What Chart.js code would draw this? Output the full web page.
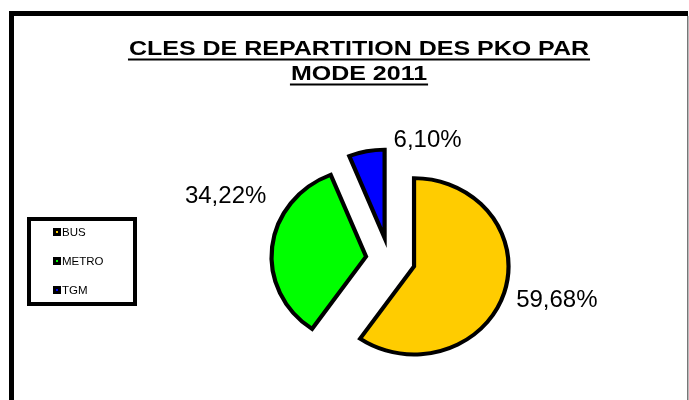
<!DOCTYPE html>
<html>
<head>
<meta charset="utf-8">
<title>Clés de répartition des PKO par mode 2011</title>
<script src="https://cdn.jsdelivr.net/npm/chart.js@4.4.0/dist/chart.umd.min.js"></script>
<style>
  html, body { margin: 0; padding: 0; background: #fff; }
  #wrap { position: relative; width: 689px; height: 400px; }
</style>
</head>
<body>
<div id="wrap"><canvas id="pkoChart"></canvas></div>
<script>
// Données
const modes = ['BUS', 'METRO', 'TGM'];
const shares = [59.68, 34.22, 6.10];
const sliceColors = ['#FFCC00', '#00FF00', '#0000FF'];
const titleLines = ['CLES DE REPARTITION DES PKO PAR', 'MODE 2011'];

// Mise en page
const FONT = '"Liberation Sans", Arial, sans-serif';
const PIE_RADIUS = 90;
const PIE_STRETCH = [1.05, 0.98];        // le camembert d'origine est légèrement ovale
const explodeShift = [25, 22, 22];      // éclatement des parts (px)
const labelAngles = [104, 291, 18];     // degrés depuis le haut, sens horaire
const labelDistances = [173, 175, 125]; // distance au centre du camembert
const TITLE_STRETCH = 1.19;

const fmtPct = v => v.toFixed(2).replace('.', ',') + '%';

// Cadre du graphique
const framePlugin = {
    id: 'frame',
    beforeDraw(chart) {
        const ctx = chart.ctx;
        ctx.save();
        ctx.fillStyle = '#fff';
        ctx.fillRect(0, 0, chart.width, chart.height);
        ctx.fillStyle = '#000';
        ctx.fillRect(9, 11, chart.width - 10, 5);
        ctx.fillRect(9, 11, 5, chart.height - 11);
        ctx.fillStyle = '#777';
        ctx.fillRect(chart.width - 2, 16, 1.5, chart.height - 16);
        ctx.restore();
    }
};

// Parts éclatées : chaque arc est redessiné, décalé selon son angle médian
const explodePlugin = {
    id: 'explode',
    beforeDatasetDraw(chart, args) {
        const ctx = chart.ctx;
        args.meta.data.forEach((arc, i) => {
            const mid = (arc.startAngle + arc.endAngle) / 2;
            ctx.save();
            ctx.translate(arc.x, arc.y);
            ctx.scale(PIE_STRETCH[0], PIE_STRETCH[1]);
            ctx.translate(-arc.x, -arc.y);
            ctx.translate(Math.cos(mid) * explodeShift[i], Math.sin(mid) * explodeShift[i]);
            arc.draw(ctx);
            ctx.restore();
        });
        return false;
    }
};

// Étiquettes de pourcentage
const pctLabelPlugin = {
    id: 'pctLabels',
    afterDatasetsDraw(chart) {
        const ctx = chart.ctx;
        const arcs = chart.getDatasetMeta(0).data;
        const values = chart.data.datasets[0].data;
        ctx.save();
        ctx.font = '24px ' + FONT;
        ctx.fillStyle = '#000';
        ctx.textAlign = 'center';
        ctx.textBaseline = 'middle';
        arcs.forEach((arc, i) => {
            const a = labelAngles[i] * Math.PI / 180;
            const x = arc.x + Math.sin(a) * labelDistances[i];
            const y = arc.y - Math.cos(a) * labelDistances[i];
            ctx.fillText(fmtPct(values[i]), x, y);
        });
        ctx.restore();
    }
};

// Titre souligné (police élargie comme dans l'original)
const titlePlugin = {
    id: 'underlinedTitle',
    afterDraw(chart) {
        const ctx = chart.ctx;
        const cx = 359;
        ctx.save();
        ctx.font = 'bold 21px ' + FONT;
        ctx.fillStyle = '#000';
        ctx.textBaseline = 'alphabetic';
        titleLines.forEach((line, i) => {
            const y = 55 + i * 25;
            const w = ctx.measureText(line).width * TITLE_STRETCH;
            ctx.save();
            ctx.translate(cx - w / 2, y);
            ctx.scale(TITLE_STRETCH, 1);
            ctx.fillText(line, 0, 0);
            ctx.restore();
            ctx.fillRect(cx - w / 2 - 1, y + 3.5, w + 2, 2);
        });
        ctx.restore();
    }
};

// Légende encadrée
const legendPlugin = {
    id: 'boxLegend',
    afterDraw(chart) {
        const ctx = chart.ctx;
        const colors = chart.data.datasets[0].backgroundColor;
        ctx.save();
        ctx.lineWidth = 4;
        ctx.strokeStyle = '#000';
        ctx.strokeRect(29, 219, 106, 85);
        ctx.font = '11.5px ' + FONT;
        ctx.textBaseline = 'middle';
        chart.data.labels.forEach((lab, i) => {
            const y = 232 + i * 29;
            ctx.fillStyle = '#000';
            ctx.fillRect(53, y - 4, 8, 8);
            ctx.fillStyle = colors[i];
            ctx.fillRect(56, y - 1, 2, 2);
            ctx.fillStyle = '#000';
            ctx.fillText(lab, 62, y + 1);
        });
        ctx.restore();
    }
};

new Chart(document.getElementById('pkoChart'), {
    type: 'pie',
    data: {
        labels: modes,
        datasets: [{
            data: shares,
            backgroundColor: sliceColors,
            borderColor: '#000',
            borderWidth: 4,
            borderJoinStyle: 'miter',
            radius: PIE_RADIUS,
            hoverOffset: 0
        }]
    },
    options: {
        responsive: true,
        maintainAspectRatio: false,
        animation: false,
        events: [],
        layout: { padding: { left: 139, right: 50, top: 148, bottom: 30 } },
        plugins: {
            legend: { display: false },
            title: { display: false },
            tooltip: { enabled: false }
        }
    },
    plugins: [framePlugin, explodePlugin, pctLabelPlugin, titlePlugin, legendPlugin]
});
</script>
</body>
</html>
